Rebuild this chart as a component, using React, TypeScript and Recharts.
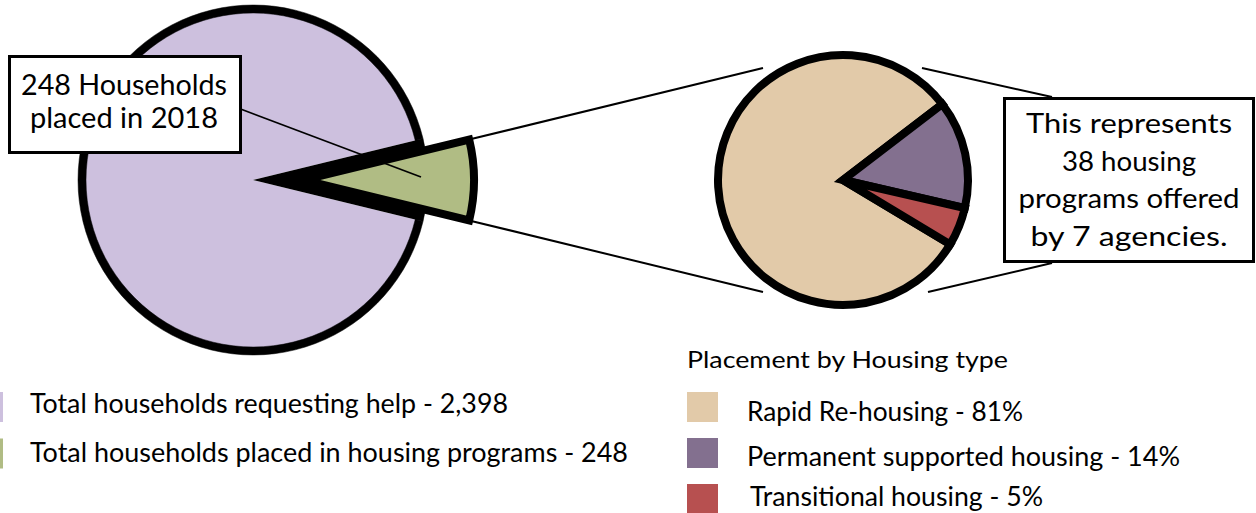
import React from 'react';
import { PieChart, Pie, Cell } from 'recharts';

// ---- data ----
const helpCategories = ['Total households requesting help', 'Total households placed in housing programs'];
const helpCounts = [2398, 248];
// share of the circle each slice occupies as drawn in the picture (%)
const helpShares = [92.4, 7.6];
const helpColors = ['#CDC0DE', '#B0BC84'];

const housingTypes = ['Rapid Re-housing', 'Permanent supported housing', 'Transitional housing'];
const housingShares = [81, 14, 5];
const housingColors = ['#E2CAA9', '#83708F', '#B75050'];

const legendTitle = 'Placement by Housing type';
const calloutLeft = ['248 Households', 'placed in 2018'];
const calloutRight = ['This represents', '38 housing', 'programs offered', 'by 7 agencies.'];

const helpData = helpCategories.map((name, i) => ({ name, value: helpShares[i], count: helpCounts[i] }));
const housingData = housingTypes.map((name, i) => ({ name, value: housingShares[i] }));

// ---- layout ----
const W = 1256;
const H = 513;
const FONT = 'Lato, "Open Sans", sans-serif';
const L_CX = 253;
const L_CY = 180;
const L_R = 171;
const EXPLODE = 50;
const R_CX = 843;
const R_CY = 180;
const R_R = 125;
const greenSpan = (helpShares[1] / (helpShares[0] + helpShares[1])) * 360;
const L_START = greenSpan / 2;
const R_START = 329;

const rad = (d: number) => (d * Math.PI) / 180;

const Decorations = () => {
  const gx = L_CX + EXPLODE;
  const topCorner = { x: gx + L_R * Math.cos(rad(greenSpan / 2)), y: L_CY - L_R * Math.sin(rad(greenSpan / 2)) };
  const botCorner = { x: gx + L_R * Math.cos(rad(greenSpan / 2)), y: L_CY + L_R * Math.sin(rad(greenSpan / 2)) };
  const leftLegend = helpData.map((d) => `${d.name} - ${d.count.toLocaleString('en-US')}`);
  const leftLegendW = [478, 598];
  const rightLegend = housingData.map((d) => `${d.name} - ${d.value}%`);
  const rightLegendW = [276, 433, 293];
  const rightLegendX = [747, 747, 750];
  const rightLegendY = [421, 466, 506];
  const calloutLeftW = [206, 188];
  const calloutRightW = [206, 134, 221, 197];
  const calloutRightY = [133, 171, 208, 246];
  return (
    <svg width={W} height={H} style={{ position: 'absolute', left: 0, top: 0, pointerEvents: 'none' }}>
      {/* connectors */}
      <line x1={topCorner.x} y1={topCorner.y} x2={763} y2={68} stroke="#000" strokeWidth={2} />
      <line x1={botCorner.x} y1={botCorner.y} x2={763} y2={292} stroke="#000" strokeWidth={2} />
      <line x1={922} y1={68} x2={1052} y2={97} stroke="#000" strokeWidth={2} />
      <line x1={928} y1={292} x2={1052} y2={263} stroke="#000" strokeWidth={2} />
      {/* left callout */}
      <line x1={238} y1={108} x2={421} y2={177} stroke="#000" strokeWidth={1.6} />
      <rect x={9.5} y={56.5} width={231} height={96} fill="#fff" stroke="#000" strokeWidth={3} />
      {calloutLeft.map((t, i) => (
        <text key={t} x={124} y={95 + i * 33} textAnchor="middle" fontFamily={FONT} fontSize={28} fill="#000"
          textLength={calloutLeftW[i]} lengthAdjust="spacingAndGlyphs">{t}</text>
      ))}
      {/* right callout */}
      <rect x={1004.5} y={98.5} width={249} height={163} fill="#fff" stroke="#000" strokeWidth={3} />
      {calloutRight.map((t, i) => (
        <text key={t} x={1129} y={calloutRightY[i]} textAnchor="middle" fontFamily={FONT} fontSize={26} fill="#000"
          textLength={calloutRightW[i]} lengthAdjust="spacingAndGlyphs">{t}</text>
      ))}
      {/* left legend */}
      {leftLegend.map((t, i) => (
        <g key={t}>
          <rect x={-28} y={392 + i * 46.5} width={31} height={30} fill={helpColors[i]} />
          <text x={30} y={413 + i * 48.5} fontFamily={FONT} fontSize={26} fill="#000"
            textLength={leftLegendW[i]} lengthAdjust="spacingAndGlyphs">{t}</text>
        </g>
      ))}
      {/* right legend */}
      <text x={687} y={368} fontFamily={FONT} fontSize={23} fill="#000" textLength={321} lengthAdjust="spacingAndGlyphs">{legendTitle}</text>
      {rightLegend.map((t, i) => (
        <g key={t}>
          <rect x={687} y={392 + i * 46} width={31} height={30} fill={housingColors[i]} />
          <text x={rightLegendX[i]} y={rightLegendY[i]} fontFamily={FONT} fontSize={26} fill="#000"
            textLength={rightLegendW[i]} lengthAdjust="spacingAndGlyphs">{t}</text>
        </g>
      ))}
    </svg>
  );
};

export default function App() {
  return (
    <div style={{ position: 'absolute', left: 0, top: 0, width: W, height: H, background: '#fff' }}>
      <PieChart width={W} height={H} margin={{ top: 0, right: 0, bottom: 0, left: 0 }}>
        {/* base pie: purple + black gap */}
        <Pie data={helpData} dataKey="value" cx={L_CX} cy={L_CY} outerRadius={L_R} innerRadius={0}
          startAngle={L_START} endAngle={L_START + 360} isAnimationActive={false} stroke="none">
          {helpData.map((d, i) => (
            <Cell key={d.name} fill={i === 0 ? helpColors[0] : '#000'} stroke="none" />
          ))}
        </Pie>
        {/* black outline ring */}
        <Pie data={helpData} dataKey="value" cx={L_CX} cy={L_CY} outerRadius={L_R + 4} innerRadius={L_R - 4}
          startAngle={L_START} endAngle={L_START + 360} isAnimationActive={false} stroke="none">
          {helpData.map((d) => (
            <Cell key={d.name} fill="#000" stroke="#000" strokeWidth={0.5} />
          ))}
        </Pie>
        {/* exploded placed slice */}
        <Pie data={helpData} dataKey="value" cx={L_CX + EXPLODE} cy={L_CY} outerRadius={L_R} innerRadius={0}
          startAngle={L_START} endAngle={L_START + 360} isAnimationActive={false}>
          {helpData.map((d, i) => (
            <Cell key={d.name} fill={i === 1 ? helpColors[1] : 'none'} stroke={i === 1 ? '#000' : 'none'} strokeWidth={8} />
          ))}
        </Pie>
        {/* housing type pie */}
        <Pie data={housingData} dataKey="value" cx={R_CX} cy={R_CY} outerRadius={R_R} innerRadius={0}
          startAngle={R_START} endAngle={R_START - 360} isAnimationActive={false}>
          {housingData.map((d, i) => (
            <Cell key={d.name} fill={housingColors[i]} stroke="#000" strokeWidth={8} />
          ))}
        </Pie>
      </PieChart>
      <Decorations />
    </div>
  );
}
